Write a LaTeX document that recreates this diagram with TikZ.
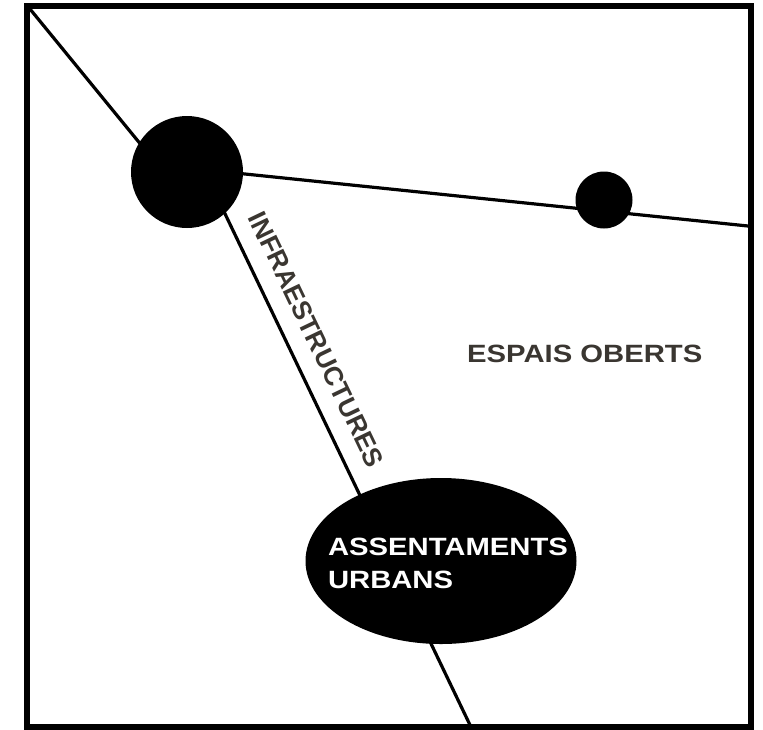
\documentclass[tikz,border=0pt]{standalone}
\usepackage{fontspec}
\setmainfont{Liberation Sans}
\usepackage{graphicx}
\usetikzlibrary{shapes.geometric , backgrounds , calc}

\definecolor{textgray}{HTML}{3A3631}
\newcommand{\widetext}[1]{\scalebox{1.17}[1]{#1}}

\begin{document}
\begin{tikzpicture}[x = 1pt , y = -1pt ,
    hub/.style = {circle , fill = black , inner sep = 0pt},
    road/.style = {line width = 3.2pt},
    label/.style = {text = textgray , font = \fontsize{25}{30}\selectfont\bfseries , inner sep = 0pt}]
    \useasboundingbox (0,0) rectangle (763,729);
    \draw[line width = 6pt] (27,6) rectangle (751,727); % Marc

    % Nuclis
    \node[hub , minimum size = 112pt] (bighub) at (187,172) {};
    \node[hub , minimum size = 57pt] (smallhub) at (604,200) {};
    \node[ellipse , fill = black , inner sep = 0pt ,
          minimum width = 271pt , minimum height = 166pt] (urban) at (441,561) {};
    \node[text = white , align = left , inner sep = 0pt ,
          font = \fontsize{25}{33}\selectfont\bfseries] (urbanlabel) at (448,563)
          {\widetext{ASSENTAMENTS}\\\widetext{URBANS}};

    % Extrems de les vies
    \coordinate (cornerNW) at (30,9);
    \coordinate (eastEnd) at (748,226);
    \coordinate (southEnd) at (470,725);

    \begin{scope}[on background layer]
        \draw[road] (cornerNW) -- ($(bighub.center) + (0,29)$);
        \draw[road] ($(bighub.center) + (0,-4)$) -- (eastEnd);
        \draw[road] ($(bighub.center) + (18,0)$) -- (southEnd)
            node[label , font = \fontsize{26.5}{30}\selectfont\bfseries ,
                 sloped , above = 17pt , pos = 0.325]{INFRAESTRUCTURES};
    \end{scope}

    \node[label , anchor = base west] (openspace) at (467,362) {\widetext{ESPAIS OBERTS}};
\end{tikzpicture}
\end{document}
